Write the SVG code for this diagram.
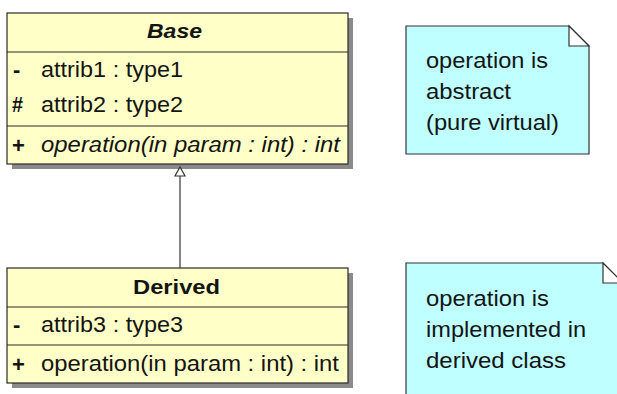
<svg xmlns="http://www.w3.org/2000/svg" width="617" height="394" viewBox="0 0 617 394">
<style>
.shadow{fill:#8a8a8a;stroke:none}
.cls{fill:#ffffc8;stroke:#2a2a2a;stroke-width:1.2}
.sep{stroke:#2a2a2a;stroke-width:1.2}
.note{fill:#bfffff;stroke:#333;stroke-width:1.2}
.fold{fill:#fff;stroke:#333;stroke-width:1.2}
text{font-family:"Liberation Sans",Arial,sans-serif;font-size:22px;fill:#141414}
.title{font-weight:bold;font-size:20px}
.vis{font-weight:bold}
.it{font-style:italic}
.conn{stroke:#333;stroke-width:1.2;fill:none}
</style>
<rect width="617" height="394" fill="#fff"/>
<g id="Base">
<rect class="shadow" x="12" y="18" width="341" height="151"/>
<rect class="cls" x="7" y="13" width="341" height="151"/>
<line class="sep" x1="7" y1="52" x2="348" y2="52"/>
<line class="sep" x1="7" y1="126" x2="348" y2="126"/>
<text class="title it" x="147" y="38" textLength="55" lengthAdjust="spacingAndGlyphs">Base</text>
<text class="vis" x="13" y="77">-</text>
<text x="41" y="77" textLength="142" lengthAdjust="spacingAndGlyphs">attrib1 : type1</text>
<text class="vis" x="12" y="112" textLength="11" lengthAdjust="spacingAndGlyphs">#</text>
<text x="41" y="112" textLength="142" lengthAdjust="spacingAndGlyphs">attrib2 : type2</text>
<text class="vis" x="12" y="153">+</text>
<text class="it" x="41" y="152" textLength="299" lengthAdjust="spacingAndGlyphs">operation(in param : int) : int</text>
</g>
<g id="Derived">
<rect class="shadow" x="12" y="273" width="341" height="115"/>
<rect class="cls" x="7" y="268" width="341" height="115"/>
<line class="sep" x1="7" y1="307" x2="348" y2="307"/>
<line class="sep" x1="7" y1="345" x2="348" y2="345"/>
<text class="title" x="133" y="294" textLength="87" lengthAdjust="spacingAndGlyphs">Derived</text>
<text class="vis" x="13" y="332">-</text>
<text x="41" y="332" textLength="142" lengthAdjust="spacingAndGlyphs">attrib3 : type3</text>
<text class="vis" x="12" y="372">+</text>
<text x="41" y="371" textLength="298" lengthAdjust="spacingAndGlyphs">operation(in param : int) : int</text>
</g>
<g id="Note1">
<path class="note" d="M406,26 H569 L589,46 V154 H406 Z"/>
<path class="fold" d="M569,26 V46 H589 Z"/>
<text x="426" y="68" textLength="122" lengthAdjust="spacingAndGlyphs">operation is</text>
<text x="426" y="99" textLength="85" lengthAdjust="spacingAndGlyphs">abstract</text>
<text x="426" y="130" textLength="133" lengthAdjust="spacingAndGlyphs">(pure virtual)</text>
</g>
<g id="Note2">
<path class="note" d="M406,263 H603 L623,283 V400 H406 Z"/>
<path class="fold" d="M603,263 V283 H623 Z"/>
<text x="426" y="306" textLength="123" lengthAdjust="spacingAndGlyphs">operation is</text>
<text x="426" y="337" textLength="160" lengthAdjust="spacingAndGlyphs">implemented in</text>
<text x="426" y="368" textLength="140" lengthAdjust="spacingAndGlyphs">derived class</text>
</g>
<g id="connectors">
<line class="conn" x1="180" y1="176" x2="180" y2="268"/>
<path class="conn" d="M180,167 L185,176 H175 Z" style="fill:#fff"/>
</g>
</svg>
